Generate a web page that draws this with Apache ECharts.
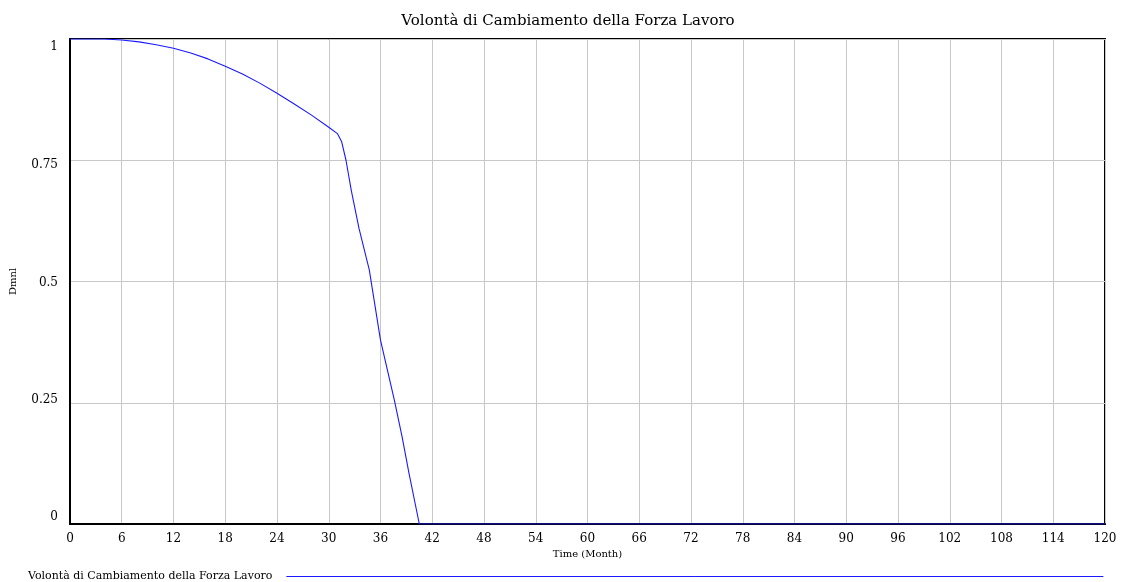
<!DOCTYPE html>
<html>
<head>
<meta charset="utf-8">
<script src="https://cdn.jsdelivr.net/npm/echarts@6/dist/echarts.min.js"></script>
<style>
  html, body { margin: 0; padding: 0; background: #fff; }
  #chart { width: 1128px; height: 582px; }
</style>
</head>
<body>
<div id="chart"></div>
<script>
// values
const seriesName = 'Volontà di Cambiamento della Forza Lavoro';
const months = [0, 2, 4, 6, 8, 10, 12, 14, 16, 18, 20, 22, 24, 26, 28, 30, 31, 31.5, 32, 32.6, 33.5, 34.7, 36, 37.6, 38.5, 39.3, 40.5, 120];
const willingness = [1, 1, 1, 0.998, 0.994, 0.988, 0.981, 0.971, 0.959, 0.944, 0.928, 0.909, 0.888, 0.866, 0.843, 0.818, 0.805, 0.788, 0.75, 0.689, 0.61, 0.524, 0.379, 0.256, 0.18, 0.105, 0, 0];

const serif = '"DejaVu Serif", "Liberation Serif", serif';
const blue = '#1a1aff';

// vensim draws the y labels slightly squeezed toward the middle
const yLabelStyle = { 1: 'd8', 0.75: 'd5', 0.5: 'd1', 0.25: 'u3', 0: 'u7' };

const chart = echarts.init(document.getElementById('chart'));

const option = {
  animation: false,
  color: [blue],
  title: {
    text: 'Volontà di Cambiamento della Forza Lavoro',
    left: 563,
    textAlign: 'center',
    top: 9,
    textStyle: { fontFamily: serif, fontSize: 15, fontWeight: 'normal', color: '#000' },
  },
  grid: {
    left: 69,
    right: 23,
    top: 39,
    bottom: 58,
    show: true,
    borderColor: '#000',
    borderWidth: 2,
  },
  legend: {
    data: [seriesName],
    left: 28,
    top: 571,
    padding: 0,
    align: 'right',
    itemWidth: 817,
    itemHeight: 10,
    itemStyle: { opacity: 0 },
    lineStyle: { color: blue, width: 1 },
    textStyle: { fontFamily: serif, fontSize: 11, color: '#000', padding: [0, 9, 0, 0] },
  },
  xAxis: {
    type: 'value',
    min: 0,
    max: 120,
    interval: 6,
    name: 'Time (Month)',
    nameLocation: 'middle',
    nameGap: 24,
    nameTextStyle: { fontFamily: serif, fontSize: 10, color: '#000' },
    axisLine: { lineStyle: { color: '#000', width: 2 } },
    axisTick: { show: false },
    axisLabel: { fontFamily: serif, fontSize: 12, color: '#000', margin: 9 },
    splitLine: { show: true, lineStyle: { color: '#c8c8c8', width: 1 } },
  },
  yAxis: {
    type: 'value',
    min: 0,
    max: 1,
    interval: 0.25,
    name: 'Dmnl',
    nameLocation: 'middle',
    nameGap: 52,
    nameTextStyle: { fontFamily: serif, fontSize: 10, color: '#000' },
    axisLine: { show: true, lineStyle: { color: '#000', width: 2 } },
    axisTick: { show: false },
    axisLabel: {
      fontFamily: serif,
      fontSize: 12,
      color: '#000',
      margin: 12,
      formatter: (v) => '{' + yLabelStyle[v] + '|' + v + '}',
      rich: {
        d8: { padding: [16, 0, 0, 0] },
        d5: { padding: [10, 0, 0, 0] },
        d1: { padding: [2, 0, 0, 0] },
        u3: { padding: [0, 0, 6, 0] },
        u7: { padding: [0, 0, 14, 0] },
      },
    },
    splitLine: { show: true, lineStyle: { color: '#c8c8c8', width: 1 } },
  },
  series: [
    {
      name: seriesName,
      type: 'line',
      data: months.map((m, i) => [m, willingness[i]]),
      showSymbol: false,
      symbol: 'none',
      lineStyle: { color: blue, width: 1.1 },
      itemStyle: { color: blue },
      z: 5,
    },
  ],
};

chart.setOption(option, true);
</script>
</body>
</html>
